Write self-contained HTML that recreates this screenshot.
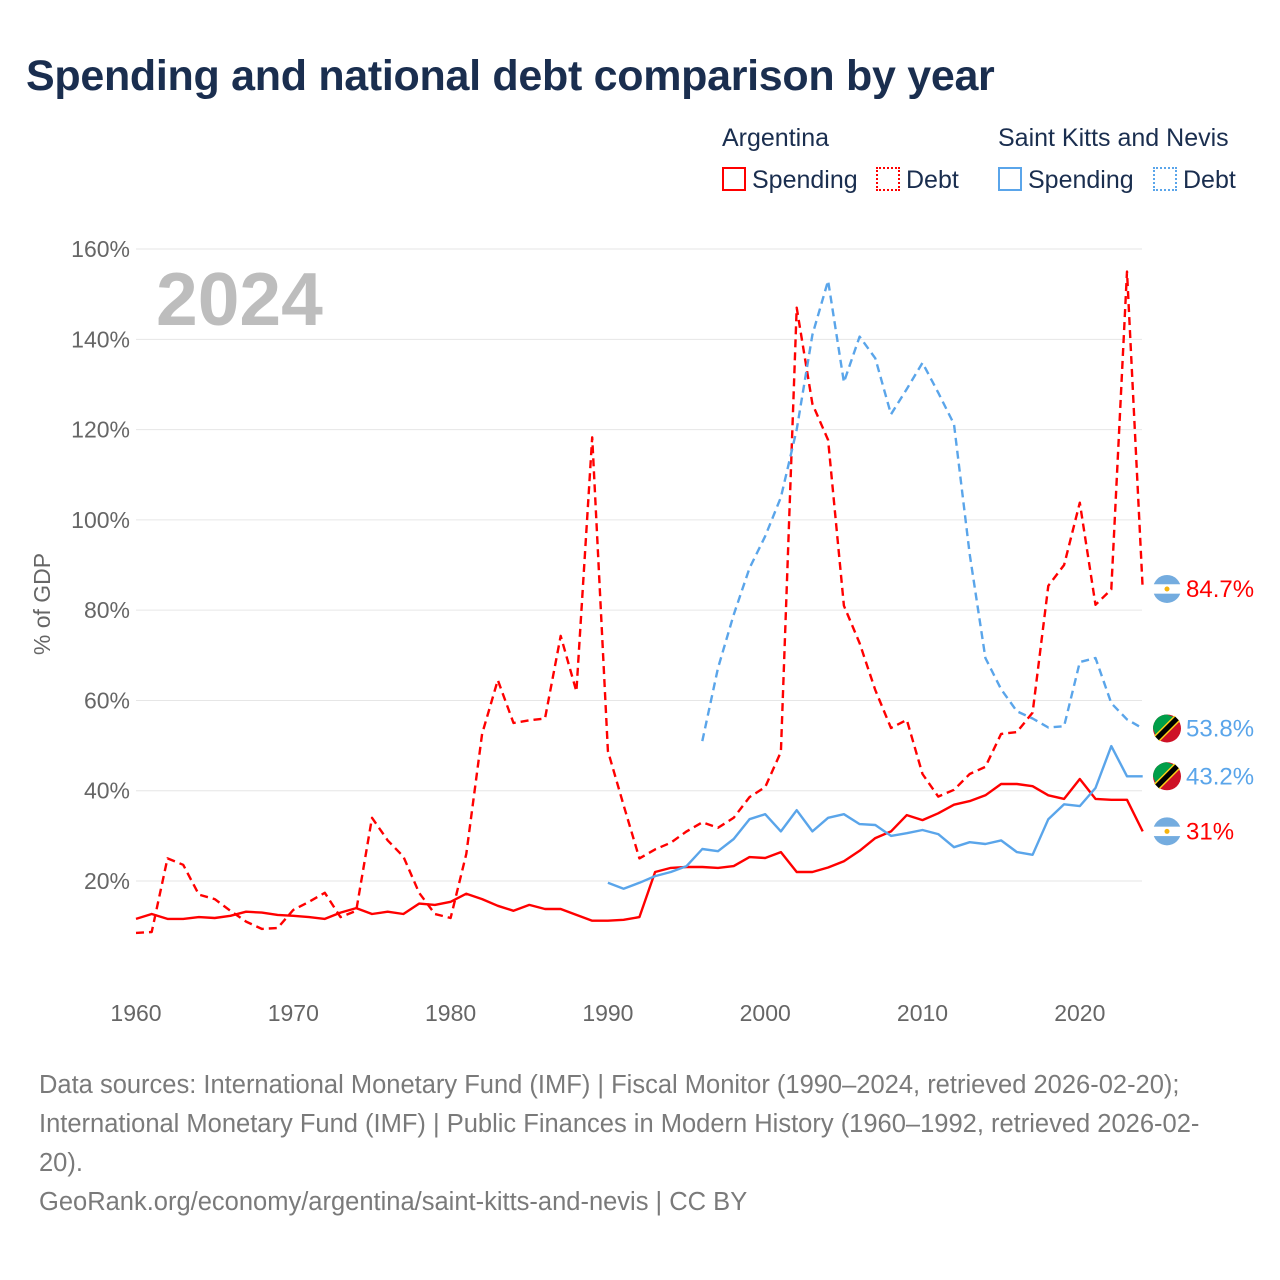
<!DOCTYPE html>
<html><head><meta charset="utf-8">
<style>
body{margin:0;background:#fff;font-family:"Liberation Sans",sans-serif;}
#wrap{position:relative;width:1280px;height:1280px;overflow:hidden;}
.t{position:absolute;white-space:nowrap;}
</style></head>
<body>
<div id="wrap">
<div class="t" style="left:26px;top:52px;font-size:43px;font-weight:bold;color:#1a2e4f;letter-spacing:-0.3px;">Spending and national debt comparison by year</div>
<div class="t" style="left:722px;top:124px;font-size:25px;color:#1a2e4f;">Argentina</div>
<div class="t" style="left:998px;top:124px;font-size:25px;color:#1a2e4f;">Saint Kitts and Nevis</div>
<div class="t" style="left:722px;top:166px;font-size:25px;color:#1a2e4f;"><span style="display:inline-block;width:24px;height:24px;border:2px solid #f00;box-sizing:border-box;vertical-align:-3px;margin-right:6px"></span>Spending</div>
<div class="t" style="left:876px;top:166px;font-size:25px;color:#1a2e4f;"><span style="display:inline-block;width:24px;height:24px;border:2px dotted #f00;box-sizing:border-box;vertical-align:-3px;margin-right:6px"></span>Debt</div>
<div class="t" style="left:998px;top:166px;font-size:25px;color:#1a2e4f;"><span style="display:inline-block;width:24px;height:24px;border:2px solid #5aa5ea;box-sizing:border-box;vertical-align:-3px;margin-right:6px"></span>Spending</div>
<div class="t" style="left:1153px;top:166px;font-size:25px;color:#1a2e4f;"><span style="display:inline-block;width:24px;height:24px;border:2px dotted #5aa5ea;box-sizing:border-box;vertical-align:-3px;margin-right:6px"></span>Debt</div>
<svg id="chart" width="1280" height="1280" style="position:absolute;left:0;top:0"></svg>
<div class="t" style="left:39px;top:1066px;font-size:25.5px;line-height:39px;color:#7a7a7a;">Data sources: International Monetary Fund (IMF) | Fiscal Monitor (1990–2024, retrieved 2026-02-20);<br>International Monetary Fund (IMF) | Public Finances in Modern History (1960–1992, retrieved 2026-02-<br>20).<br>GeoRank.org/economy/argentina/saint-kitts-and-nevis | CC BY</div>
</div>
<script>
const years = [];for(let y=1960;y<=2024;y++)years.push(y);
const yTicks = [20,40,60,80,100,120,140,160];
const xTicks = [1960,1970,1980,1990,2000,2010,2020];
const argDebt = [8.5,8.7,25,23.6,17,16,13.4,11,9.4,9.6,13.6,15.4,17.4,12,13.4,34,29,25.4,17.4,12.7,11.8,26,52.6,64.5,55,55.6,56,74.3,62,118.3,48.8,36.8,25,27,28.5,31,33,31.8,34,38.6,40.8,48.6,147,125.7,117.7,81,72.7,62.3,53.9,55.7,43.7,38.7,40.2,43.7,45.3,52.6,53,57.3,85.4,90,103.8,81.2,84.6,155,84.7];
const argSpend = [11.6,12.7,11.6,11.6,12,11.8,12.3,13.2,13,12.5,12.3,12,11.6,13,14,12.7,13.2,12.7,15,14.7,15.4,17.2,16,14.5,13.4,14.7,13.8,13.8,12.5,11.2,11.2,11.4,12,22,22.9,23.1,23.1,22.9,23.3,25.3,25.1,26.4,22,22,23,24.4,26.7,29.5,31,34.6,33.5,35,36.9,37.7,39,41.5,41.5,41,39,38.2,42.6,38.2,38,38,31];
const sknDebtStart = 1996;
const sknDebt = [51,67.2,79,89.3,96.4,105,120,141,153,130.5,140.6,135.8,123.4,129,134.8,128.2,121.2,92.4,69.4,62.5,57.6,56,54,54.3,68.5,69.4,59.4,55.8,53.8];
const sknSpendStart = 1990;
const sknSpend = [19.6,18.3,19.6,21.1,22,23.3,27.1,26.6,29.3,33.7,34.8,31,35.7,31,34,34.8,32.6,32.4,30,30.6,31.3,30.4,27.5,28.6,28.2,29,26.4,25.8,33.7,37,36.6,40.6,49.9,43.2,43.2];
const RED='#ff0000', BLUE='#5aa5ea';
const X = y => 136 + (y-1960)*15.73;
const Y = v => 971.3 - v*4.514;
const svg = document.getElementById('chart');
const NS='http://www.w3.org/2000/svg';
function mk(tag, attrs){const e=document.createElementNS(NS,tag);for(const k in attrs)e.setAttribute(k,attrs[k]);svg.appendChild(e);return e;}
yTicks.forEach(v=>{
  const g=mk('line',{x1:136,x2:1142,y1:Y(v),y2:Y(v),stroke:'#e6e6e6','stroke-width':1});
  
  
  const t=mk('text',{x:130,y:Y(v)+8,'text-anchor':'end','font-size':23,fill:'#666','font-family':'Liberation Sans, sans-serif'});
  t.textContent=v+'%';
  
  
});
xTicks.forEach(v=>{
  const t=mk('text',{x:X(v),y:1021,'text-anchor':'middle','font-size':23,fill:'#666','font-family':'Liberation Sans, sans-serif'});
  t.textContent=v;
  
  
});
const yt=mk('text',{x:0,y:0,transform:'translate(50,604) rotate(-90)','text-anchor':'middle','font-size':23,fill:'#666','font-family':'Liberation Sans, sans-serif'});
yt.textContent='% of GDP';


const yr=mk('text',{x:156,y:325,'font-size':75,'font-weight':'bold',fill:'#bdbdbd','font-family':'Liberation Sans, sans-serif'});
yr.textContent='2024';


function line(start, vals, color, dash, name){
  const pts=vals.map((v,i)=>X(start+i).toFixed(1)+','+Y(v).toFixed(1)).join(' ');
  const p=mk('polyline',{points:pts,fill:'none',stroke:color,'stroke-width':2.4,'stroke-linejoin':'round'});
  if(dash)p.setAttribute('stroke-dasharray','8,5');
  
  
}
line(1960,argSpend,RED,false,'argentina-spending-line');
line(1960,argDebt,RED,true,'argentina-debt-line');
line(sknSpendStart,sknSpend,BLUE,false,'skn-spending-line');
line(sknDebtStart,sknDebt,BLUE,true,'skn-debt-line');
function endLabel(v,color,flag,name){
  const cy=Y(v), cx=1167;
  if(flag==='ar'){
    mk('circle',{cx:cx,cy:cy,r:14,fill:'#74acdf'});
    mk('rect',{x:cx-14,y:cy-4.7,width:28,height:9.4,fill:'#fff'});
    mk('circle',{cx:cx,cy:cy,r:2.5,fill:'#f6b40e'});
  } else {
    mk('circle',{cx:cx,cy:cy,r:14,fill:'#ce1126'});
    mk('path',{d:`M${cx-14},${cy} A14,14 0 0 1 ${cx},${cy-14} L${cx+10},${cy-10} L${cx-10},${cy+10} Z`,fill:'#009e49'});
    mk('line',{x1:cx-10,y1:cy+10,x2:cx+10,y2:cy-10,stroke:'#fcd116','stroke-width':8});
    mk('line',{x1:cx-10,y1:cy+10,x2:cx+10,y2:cy-10,stroke:'#000','stroke-width':5});
  }
  const t=mk('text',{x:1186,y:cy+8,'font-size':24,fill:color,'font-family':'Liberation Sans, sans-serif'});
  t.textContent=(Math.round(v*10)/10)+'%';
  
  
}
endLabel(argDebt[argDebt.length-1],RED,'ar','argentina-debt-end-label');
endLabel(sknDebt[sknDebt.length-1],BLUE,'kn','skn-debt-end-label');
endLabel(sknSpend[sknSpend.length-1],BLUE,'kn','skn-spending-end-label');
endLabel(argSpend[argSpend.length-1],RED,'ar','argentina-spending-end-label');
</script>
</body></html>
